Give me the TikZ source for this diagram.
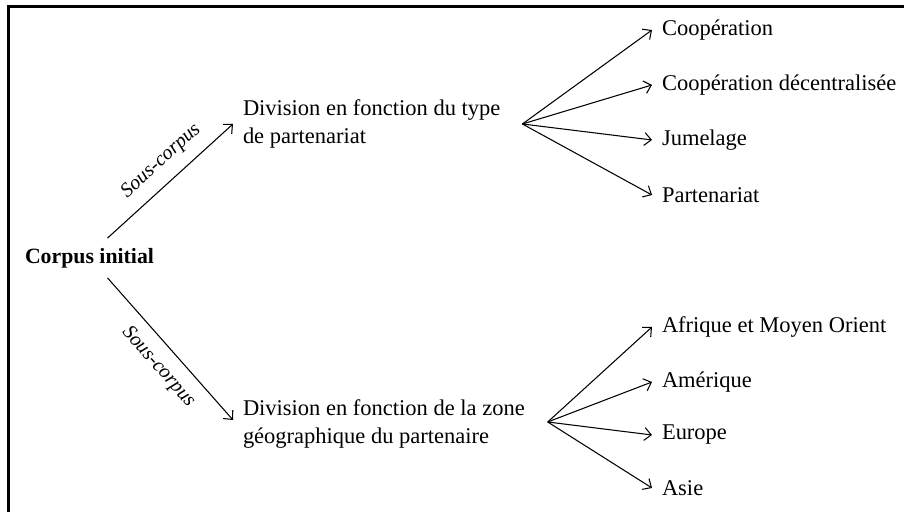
\documentclass[tikz,border=0pt]{standalone}
\usepackage{fontspec}
\setmainfont{Liberation Serif}
\usepackage{tikz}
\usetikzlibrary{arrows.meta}

\begin{document}
\begin{tikzpicture}[every node/.style={inner sep=0pt, outer sep=0pt, font=\fontsize{16}{20}\selectfont},
  leaf/.style={anchor=west},
  division/.style={anchor=west, align=left},
  souscorpus/.style={midway, sloped, font=\fontsize{14.4}{17}\selectfont\itshape},
  fleche/.style={-{Straight Barb[length=1.7mm, width=3.2mm]}, line width=0.75pt}]
\useasboundingbox (0,0) rectangle (22.6,12.8);
\draw[line width=1.8pt] (22.6,12.64) -| (0.2125,0);

\node[anchor=west, font=\fontsize{15.5}{19}\selectfont\bfseries] (corpus) at (0.625,6.35) {Corpus initial};

\node[division] (type) at (6.075,9.7) {Division en fonction du type\\de partenariat};
\node[division] (zone) at (6.075,2.2) {Division en fonction de la zone\\géographique du partenaire};

\node[leaf] (coop) at (16.55,12.05) {Coopération};
\node[leaf] (decentr) at (16.55,10.675) {Coopération décentralisée};
\node[leaf] (jumelage) at (16.55,9.3) {Jumelage};
\node[leaf] (partenariat) at (16.55,7.925) {Partenariat};

\node[leaf] (afrique) at (16.55,4.625) {Afrique et Moyen Orient};
\node[leaf] (amerique) at (16.55,3.25) {Amérique};
\node[leaf] (europe) at (16.55,1.925) {Europe};
\node[leaf] (asie) at (16.55,0.6) {Asie};

\coordinate (ftype) at ([xshift=5.5mm]type.east);
\coordinate (fzone) at ([xshift=5.75mm,yshift=0.5mm]zone.east);

\draw[fleche] ([xshift=4.5mm,yshift=2.5mm]corpus.north) -- node[souscorpus, pos=0.54, above=3mm] {Sous-corpus} ([xshift=-2.5mm]type.west);
\draw[fleche] ([xshift=4.5mm,yshift=-2.5mm]corpus.south) -- node[souscorpus, pos=0.53, below=3mm] {Sous-corpus} ([xshift=-2.5mm,yshift=1mm]zone.west);

\draw[fleche] (ftype) -- ([xshift=-2.5mm]coop.west);
\draw[fleche] (ftype) -- ([xshift=-2.5mm]decentr.west);
\draw[fleche] (ftype) -- ([xshift=-2.5mm]jumelage.west);
\draw[fleche] (ftype) -- ([xshift=-2.5mm]partenariat.west);

\draw[fleche] (fzone) -- ([xshift=-2.5mm]afrique.west);
\draw[fleche] (fzone) -- ([xshift=-2.5mm]amerique.west);
\draw[fleche] (fzone) -- ([xshift=-2.5mm]europe.west);
\draw[fleche] (fzone) -- ([xshift=-2.5mm]asie.west);
\end{tikzpicture}
\end{document}
